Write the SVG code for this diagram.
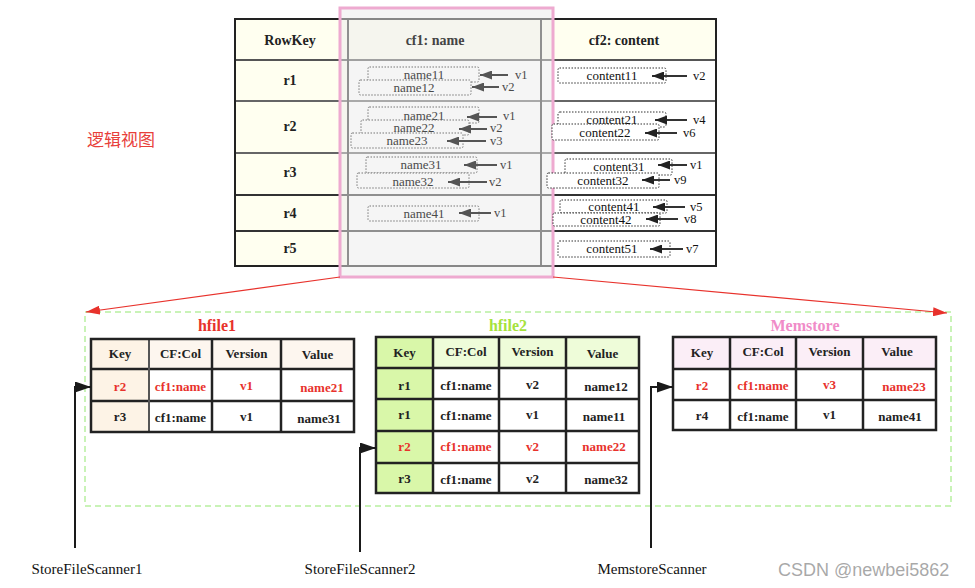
<svg xmlns="http://www.w3.org/2000/svg" width="975" height="588" viewBox="0 0 975 588">
<defs>
<style>
.serif{font-family:"Liberation Serif","Times New Roman",serif}
.b{font-weight:bold}
.h{font-family:"Liberation Serif",serif;font-size:14px;font-weight:bold;text-anchor:middle}
.n{font-family:"Liberation Serif",serif;font-size:13px;text-anchor:middle}
.g{fill:#4a4a4a}
.k{fill:#111}
.lv{font-family:"Liberation Serif",serif;font-size:12.5px}
.dbg{fill:#f5f5f5;stroke:#777;stroke-width:1;stroke-dasharray:1.5 1.5}
.dbw{fill:#fff;stroke:#333;stroke-width:1;stroke-dasharray:1.5 1.5}
.ag{stroke:#555;stroke-width:2;fill:none;marker-end:url(#mg)}
.ak{stroke:#333;stroke-width:2;fill:none;marker-end:url(#mk)}
.t{font-family:"Liberation Serif",serif;font-size:13px;font-weight:bold;text-anchor:middle;fill:#222}
.red{fill:#e8322c}
.grid{stroke:#222;stroke-width:2.5;fill:none}
.cl{stroke:#222;stroke-width:2.5}
.sc{font-family:"Liberation Serif",serif;font-size:15px;text-anchor:middle;fill:#111}
</style>
<marker id="mg" viewBox="0 0 12 9" refX="12" refY="4.5" markerWidth="12" markerHeight="9" markerUnits="userSpaceOnUse" orient="auto"><path d="M0,0 L12,4.5 L0,9 z" fill="#555"/></marker>
<marker id="mk" viewBox="0 0 12 9" refX="12" refY="4.5" markerWidth="12" markerHeight="9" markerUnits="userSpaceOnUse" orient="auto"><path d="M0,0 L12,4.5 L0,9 z" fill="#222"/></marker>
<marker id="mr" viewBox="0 0 14 9" refX="14" refY="4.5" markerWidth="14" markerHeight="9" markerUnits="userSpaceOnUse" orient="auto"><path d="M0,0 L14,4.5 L0,9 z" fill="#e8322c"/></marker>
<marker id="mb" viewBox="0 0 16 11" refX="16" refY="5.5" markerWidth="16" markerHeight="11" markerUnits="userSpaceOnUse" orient="auto"><path d="M0,0 L16,5.5 L0,11 z" fill="#1a1a1a"/></marker>
</defs>
<rect width="975" height="588" fill="#fff"/>

<g id="logical-view">
<rect x="235" y="19" width="113" height="247" fill="#fffff0"/>
<rect x="348" y="19" width="193" height="41" fill="#fffff0"/>
<rect x="348" y="60" width="193" height="206" fill="#fff"/>
<rect x="541" y="19" width="175" height="41" fill="#fffff0"/>
<rect x="541" y="60" width="175" height="206" fill="#fff"/>
<g stroke-width="2">
<line x1="235" y1="60" x2="716" y2="60" stroke="#555"/>
<line x1="235" y1="101" x2="716" y2="101" stroke="#666"/>
<line x1="235" y1="153" x2="716" y2="153" stroke="#666"/>
<line x1="235" y1="195" x2="716" y2="195" stroke="#333"/>
<line x1="235" y1="231" x2="716" y2="231" stroke="#333"/>
<line x1="348" y1="19" x2="348" y2="266" stroke="#333"/>
<line x1="541" y1="19" x2="541" y2="266" stroke="#333"/>
</g>
<rect x="235" y="19" width="481" height="247" fill="none" stroke="#222" stroke-width="2"/>
<rect x="340" y="8" width="213" height="269" fill="#ebebeb" fill-opacity="0.5" stroke="#eeaad0" stroke-width="3"/>
<text class="h" x="290" y="45" fill="#222">RowKey</text>
<text class="h" x="435" y="45" fill="#444">cf1: name</text>
<text class="h" x="624" y="45" fill="#222">cf2: content</text>
<text class="h" x="290" y="85" fill="#222">r1</text>
<text class="h" x="290" y="131" fill="#222">r2</text>
<text class="h" x="290" y="177" fill="#222">r3</text>
<text class="h" x="290" y="218" fill="#222">r4</text>
<text class="h" x="290" y="253" fill="#222">r5</text>
</g>

<g id="cf1-cells">
<rect class="dbg" x="368" y="67" width="111" height="15" rx="1.5"/>
<text class="n g" x="424" y="79">name11</text>
<rect class="dbg" x="359" y="80" width="112" height="15" rx="1.5"/>
<text class="n g" x="414" y="91.5">name12</text>
<rect class="dbg" x="368" y="107" width="111" height="16" rx="1.5"/>
<text class="n g" x="424" y="120">name21</text>
<rect class="dbg" x="361" y="120" width="108" height="15" rx="1.5"/>
<text class="n g" x="414" y="132">name22</text>
<rect class="dbg" x="351" y="133" width="112" height="15" rx="1.5"/>
<text class="n g" x="407" y="145">name23</text>
<rect class="dbg" x="366" y="157" width="111" height="16" rx="1.5"/>
<text class="n g" x="421" y="169">name31</text>
<rect class="dbg" x="357" y="173" width="112" height="15" rx="1.5"/>
<text class="n g" x="413" y="186">name32</text>
<rect class="dbg" x="368" y="206" width="111" height="15" rx="1.5"/>
<text class="n g" x="424" y="217.5">name41</text>
<text class="lv g" x="515" y="79">v1</text>
<text class="lv g" x="502" y="91">v2</text>
<text class="lv g" x="503" y="120">v1</text>
<text class="lv g" x="490" y="132">v2</text>
<text class="lv g" x="490" y="145">v3</text>
<text class="lv g" x="500" y="169">v1</text>
<text class="lv g" x="489" y="186">v2</text>
<text class="lv g" x="494" y="217">v1</text>
</g>

<g id="cf2-cells">
<rect class="dbw" x="558" y="68" width="108" height="15" rx="1.5"/>
<text class="n k" x="612" y="80">content11</text>
<rect class="dbw" x="558" y="112" width="108" height="15" rx="2"/>
<text class="n k" x="612" y="124">content21</text>
<rect class="dbw" x="552" y="124" width="107" height="16" rx="1.5"/>
<text class="n k" x="605" y="137">content22</text>
<rect class="dbw" x="565" y="159" width="107" height="16" rx="1.5"/>
<text class="n k" x="619" y="171">content31</text>
<rect class="dbw" x="547" y="173" width="112" height="15" rx="1.5"/>
<text class="n k" x="603" y="185">content32</text>
<rect class="dbw" x="560" y="200" width="107" height="13" rx="1.5"/>
<text class="n k" x="614" y="211">content41</text>
<rect class="dbw" x="553" y="213" width="107" height="13" rx="1.5"/>
<text class="n k" x="606" y="224">content42</text>
<rect class="dbw" x="558" y="241" width="112" height="16" rx="1.5"/>
<text class="n k" x="612" y="253">content51</text>
<text class="lv k" x="693" y="80">v2</text>
<text class="lv k" x="693" y="124">v4</text>
<text class="lv k" x="683" y="137">v6</text>
<text class="lv k" x="690" y="169">v1</text>
<text class="lv k" x="674" y="184">v9</text>
<text class="lv k" x="690" y="211">v5</text>
<text class="lv k" x="684" y="223">v8</text>
<text class="lv k" x="686" y="253">v7</text>
</g>

<g id="label-logical">
<text x="87" y="146" font-family="'Noto Sans CJK SC',sans-serif" font-size="17" fill="#e8403a">逻辑视图</text>
</g>

<g id="region-box">
<rect x="85" y="312" width="866" height="194" fill="none" stroke="#b8f0a0" stroke-width="1.5" stroke-dasharray="6 4"/>
</g>

<g id="hfile1">
<text x="217" y="331" font-family="'Liberation Serif',serif" font-size="16" font-weight="bold" text-anchor="middle" fill="#e8322c">hfile1</text>
<rect x="91" y="339" width="263" height="30" fill="#fdf6ef"/>
<rect x="91" y="339" width="58" height="93" fill="#fdf3e6"/>
<line class="cl" x1="91" y1="369" x2="354" y2="369"/>
<line class="cl" x1="91" y1="401" x2="354" y2="401"/>
<line x1="149" y1="339" x2="149" y2="432" stroke="#555" stroke-width="2"/>
<line class="cl" x1="212" y1="339" x2="212" y2="432"/>
<line class="cl" x1="281" y1="339" x2="281" y2="432"/>
<rect class="grid" x="91" y="339" width="263" height="93"/>
<text class="t" x="120" y="358">Key</text>
<text class="t" x="180.5" y="358">CF:Col</text>
<text class="t" x="246.5" y="358">Version</text>
<text class="t" x="317.5" y="359">Value</text>
<text class="t red" x="120" y="391">r2</text>
<text class="t red" x="180.5" y="391">cf1:name</text>
<text class="t red" x="246.5" y="390">v1</text>
<text class="t red" x="322" y="392">name21</text>
<text class="t" x="120" y="421">r3</text>
<text class="t" x="180.5" y="422">cf1:name</text>
<text class="t" x="246.5" y="421">v1</text>
<text class="t" x="319" y="423">name31</text>
</g>

<g id="hfile2">
<text x="508" y="331" font-family="'Liberation Serif',serif" font-size="16" font-weight="bold" text-anchor="middle" fill="#a6e23c">hfile2</text>
<rect x="376" y="337" width="263" height="31" fill="#eefcd9"/>
<rect x="376" y="337" width="57" height="156" fill="#d9f7a9"/>
<line class="cl" x1="376" y1="368" x2="639" y2="368"/>
<line class="cl" x1="376" y1="399" x2="639" y2="399"/>
<line class="cl" x1="376" y1="431" x2="639" y2="431"/>
<line class="cl" x1="376" y1="463" x2="639" y2="463"/>
<line class="cl" x1="433" y1="337" x2="433" y2="493"/>
<line class="cl" x1="499" y1="337" x2="499" y2="493"/>
<line class="cl" x1="566" y1="337" x2="566" y2="493"/>
<rect class="grid" x="376" y="337" width="263" height="156"/>
<text class="t" x="404.5" y="357">Key</text>
<text class="t" x="466" y="356">CF:Col</text>
<text class="t" x="532.5" y="356">Version</text>
<text class="t" x="602.5" y="358">Value</text>
<text class="t" x="404.5" y="390">r1</text>
<text class="t" x="466" y="390">cf1:name</text>
<text class="t" x="532.5" y="389">v2</text>
<text class="t" x="606" y="391">name12</text>
<text class="t" x="404.5" y="419">r1</text>
<text class="t" x="466" y="420">cf1:name</text>
<text class="t" x="532.5" y="419">v1</text>
<text class="t" x="604" y="421">name11</text>
<text class="t red" x="404.5" y="451">r2</text>
<text class="t red" x="466" y="451">cf1:name</text>
<text class="t red" x="532.5" y="451">v2</text>
<text class="t red" x="604" y="451">name22</text>
<text class="t" x="404.5" y="483">r3</text>
<text class="t" x="466" y="484">cf1:name</text>
<text class="t" x="532.5" y="483">v2</text>
<text class="t" x="606" y="484">name32</text>
</g>

<g id="memstore">
<text x="805" y="331" font-family="'Liberation Serif',serif" font-size="16" font-weight="bold" text-anchor="middle" fill="#f08cc8">Memstore</text>
<rect x="673" y="337" width="263" height="32" fill="#fbeef7"/>
<line class="cl" x1="673" y1="369" x2="936" y2="369"/>
<line class="cl" x1="673" y1="400" x2="936" y2="400"/>
<line class="cl" x1="730" y1="337" x2="730" y2="430"/>
<line class="cl" x1="796" y1="337" x2="796" y2="430"/>
<line class="cl" x1="863" y1="337" x2="863" y2="430"/>
<rect class="grid" x="673" y="337" width="263" height="93"/>
<text class="t" x="702" y="357">Key</text>
<text class="t" x="763" y="356">CF:Col</text>
<text class="t" x="829.5" y="356">Version</text>
<text class="t" x="897" y="356">Value</text>
<text class="t red" x="702" y="390">r2</text>
<text class="t red" x="763" y="390">cf1:name</text>
<text class="t red" x="829.5" y="389">v3</text>
<text class="t red" x="904" y="391">name23</text>
<text class="t" x="702" y="420">r4</text>
<text class="t" x="763" y="421">cf1:name</text>
<text class="t" x="829.5" y="419">v1</text>
<text class="t" x="900" y="421">name41</text>
</g>

<g id="scanner1"><text class="sc" x="87" y="574">StoreFileScanner1</text></g>
<g id="scanner2"><text class="sc" x="360" y="574">StoreFileScanner2</text></g>
<g id="scanner3"><text class="sc" x="652" y="574">MemstoreScanner</text></g>

<g id="connectors">
<path class="ag" d="M508,75 H480"/>
<path class="ag" d="M499,87 H472"/>
<path class="ag" d="M497,117 H467"/>
<path class="ag" d="M487,129 H459"/>
<path class="ag" d="M486,141 H447"/>
<path class="ag" d="M497,165 H464"/>
<path class="ag" d="M487,182 H448"/>
<path class="ag" d="M491,213 H459"/>
<path class="ak" d="M687,76 H652"/>
<path class="ak" d="M687,120 H655"/>
<path class="ak" d="M677,133 H645"/>
<path class="ak" d="M687,165 H658"/>
<path class="ak" d="M670,180 H642"/>
<path class="ak" d="M685,207 H653"/>
<path class="ak" d="M678,219 H646"/>
<path class="ak" d="M683,249 H650"/>
<path d="M340,277 L86,312" stroke="#e8322c" stroke-width="1.2" fill="none" marker-end="url(#mr)"/>
<path d="M553,277 L947,313" stroke="#e8322c" stroke-width="1.2" fill="none" marker-end="url(#mr)"/>
<path d="M75,548 V387 H91" stroke="#1a1a1a" stroke-width="2" fill="none" marker-end="url(#mb)"/>
<path d="M360,552 V448 H376" stroke="#1a1a1a" stroke-width="2" fill="none" marker-end="url(#mb)"/>
<path d="M651,548 V387 H673" stroke="#1a1a1a" stroke-width="2" fill="none" marker-end="url(#mb)"/>
</g>

<g id="watermark">
<text x="778" y="576" font-family="'Liberation Sans',Arial,sans-serif" font-size="18" fill="#8c8c8c" fill-opacity="0.75">CSDN @newbei5862</text>
</g>
</svg>
